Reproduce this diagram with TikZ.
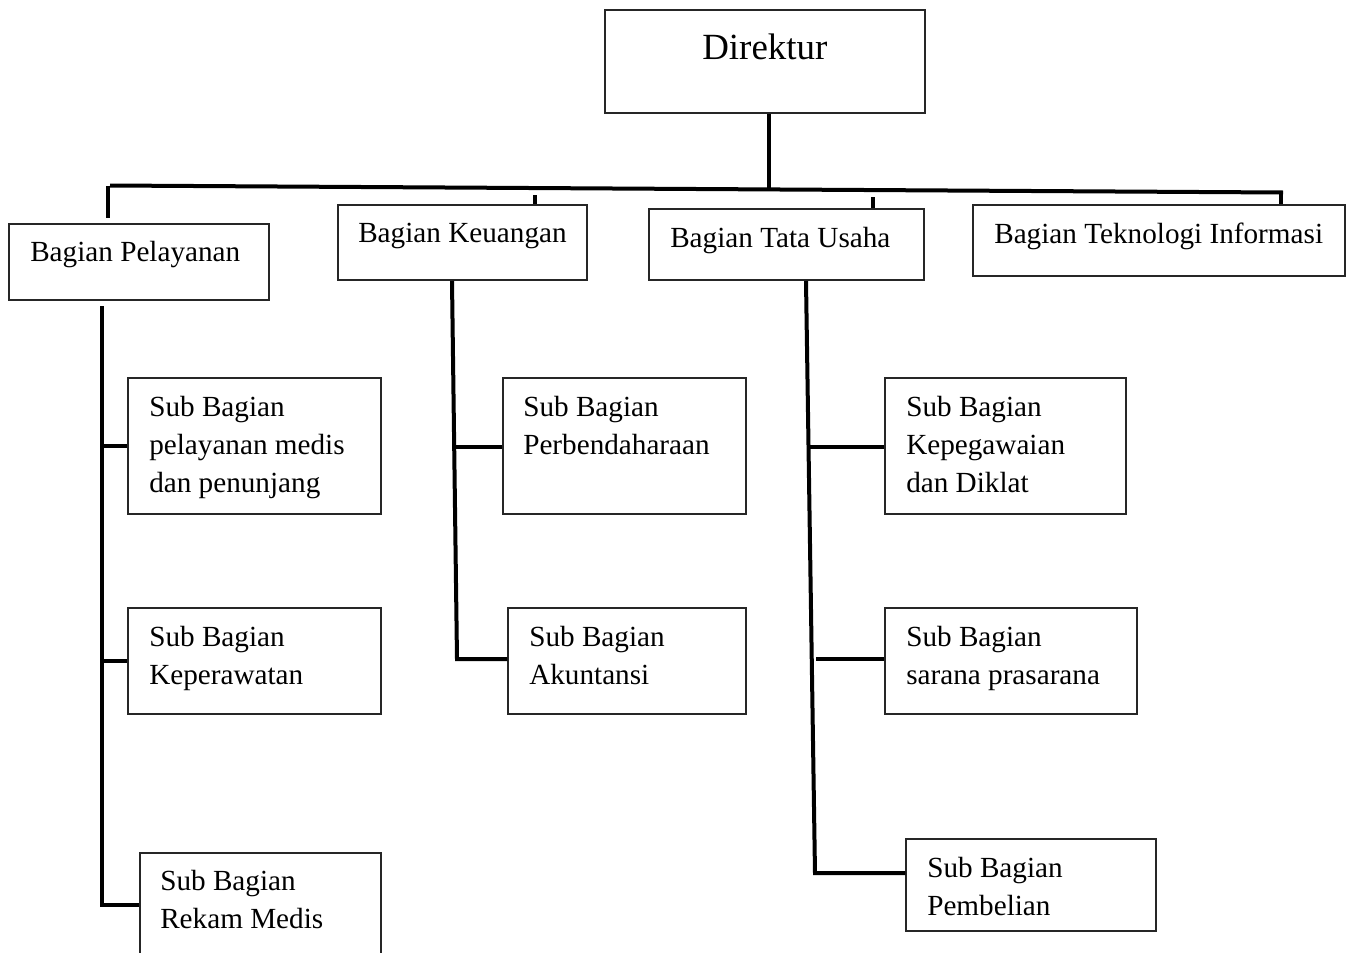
\documentclass[tikz,border=0pt]{standalone}
\usepackage{fontspec}
\setmainfont{Liberation Serif}
\usetikzlibrary{fit}
\newcommand\mlines[1]{\begin{tabular}[t]{@{}l@{}}#1\end{tabular}}
\begin{document}
\begin{tikzpicture}[x=0.75pt,y=-0.75pt,
  box/.style={draw=black!85, line width=0.9pt, inner sep=0pt},
  lbl/.style={anchor=base west, inner sep=0pt, font=\fontsize{21.9}{28.5}\selectfont},
  biglbl/.style={anchor=base west, inner sep=0pt, font=\fontsize{27.7}{33}\selectfont},
  conn/.style={line width=3pt, line cap=butt, line join=miter}]
\useasboundingbox (0,0) rectangle (1354,953);
\fill[white] (0,0) rectangle (1354,953);

% boxes
\node[box, fit={(605,10) (925,113)}] (dir) {};
\node[box, fit={(9,224) (269,300)}] (pel) {};
\node[box, fit={(338,205) (587,280)}] (keu) {};
\node[box, fit={(649,209) (924,280)}] (tu) {};
\node[box, fit={(973,205) (1345,276)}] (ti) {};
\node[box, fit={(128,378) (381,514)}] (med) {};
\node[box, fit={(128,608) (381,714)}] (per) {};
\node[box, fit={(140,853) (381,962)}] (rek) {};
\node[box, fit={(503,378) (746,514)}] (bend) {};
\node[box, fit={(508,608) (746,714)}] (aku) {};
\node[box, fit={(885,378) (1126,514)}] (peg) {};
\node[box, fit={(885,608) (1137,714)}] (sar) {};
\node[box, fit={(906,839) (1156,931)}] (pemb) {};

% labels
\node[biglbl] (dirT) at (702,60) {Direktur};
\node[lbl] (pelT) at (30,261) {Bagian Pelayanan};
\node[lbl] (keuT) at (358,242) {Bagian Keuangan};
\node[lbl] (tuT) at (670,247) {Bagian Tata Usaha};
\node[lbl] (tiT) at (994,243) {Bagian Teknologi Informasi};
\node[lbl] (medT) at (149,416) {\mlines{Sub Bagian\\pelayanan medis\\dan penunjang}};
\node[lbl] (perT) at (149,646) {\mlines{Sub Bagian\\Keperawatan}};
\node[lbl] (rekT) at (160,890) {\mlines{Sub Bagian\\Rekam Medis}};
\node[lbl] (bendT) at (523,416) {\mlines{Sub Bagian\\Perbendaharaan}};
\node[lbl] (akuT) at (529,646) {\mlines{Sub Bagian\\Akuntansi}};
\node[lbl] (pegT) at (906,416) {\mlines{Sub Bagian\\Kepegawaian\\dan Diklat}};
\node[lbl] (sarT) at (906,646) {\mlines{Sub Bagian\\sarana prasarana}};
\node[lbl] (pembT) at (927,877) {\mlines{Sub Bagian\\Pembelian}};

% top bar
\coordinate (barL) at (110,185.5);
\coordinate (barR) at (1283,192.5);
\coordinate (dj) at (769,188);
\draw[conn] (barL) -- (barR);
\draw[conn] (dir.south -| dj) -- (dj);
\coordinate (d1) at (108,186);
\coordinate (d1e) at (108,218);
\draw[conn] (d1) -- (d1e);
\coordinate (d2) at (535,195);
\draw[conn] (d2) -- (d2 |- keu.north);
\coordinate (d3) at (873,197);
\draw[conn] (d3) -- (d3 |- tu.north);
\coordinate (d4) at (1281,192);
\coordinate (d4e) at (1281,204);
\draw[conn] (d4) -- (d4e);

% Pelayanan branch
\coordinate (pT) at (102,306);
\coordinate (pB) at (102,905);
\draw[conn] (pT) -- (pB) -- (rek.west |- pB);
\draw[conn] (pT |- med.west) -- (med.west);
\draw[conn] (pT |- per.west) -- (per.west);

% Keuangan branch
\coordinate (kT) at (452,281);
\coordinate (kB) at (457,659);
\coordinate (k1) at (454.2,447);
\draw[conn] (kT) -- (kB) -- (aku.west |- kB);
\draw[conn] (k1) -- (bend.west |- k1);

% Tata Usaha branch
\coordinate (tT) at (806,281);
\coordinate (tB) at (815,873);
\coordinate (t1) at (808,447);
\coordinate (t2) at (816,659);
\draw[conn] (tT) -- (tB) -- (pemb.west |- tB);
\draw[conn] (t1) -- (peg.west |- t1);
\draw[conn] (t2) -- (sar.west |- t2);
\end{tikzpicture}
\end{document}
